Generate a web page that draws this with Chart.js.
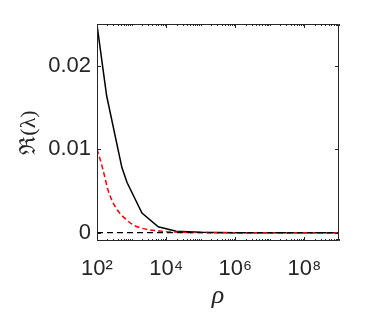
<!DOCTYPE html>
<html>
<head>
<meta charset="utf-8">
<script src="https://cdn.jsdelivr.net/npm/chart.js@4"></script>
<style>
html,body{margin:0;padding:0;background:#fff;}
#wrap{width:374px;height:314px;}
</style>
</head>
<body>
<div id="wrap"><canvas id="c" width="374" height="314"></canvas></div>
<script>
// ---- data ----
const blackRho = [100, 190, 525, 740, 2000, 5900, 19500, 100000, 1000000, 1000000000];
const blackRe  = [0.0249, 0.0164, 0.0078, 0.0060, 0.00235, 0.0007, 0.00018, 0.00004, 0, 0];
const redRho = [100, 131, 163, 202, 283, 442, 690, 1070, 1780, 8300, 30000, 100000, 1000000, 1000000000];
const redRe  = [0.0100, 0.0084, 0.0069, 0.0053, 0.0037, 0.0024, 0.0016, 0.00098, 0.00058, 0.00015, 0.00004, 0.00001, 0, 0];
const zeroRho = [100, 1000000000];
const zeroRe = [0, 0];
const xTickValues = [1e2, 1e4, 1e6, 1e8];
const xTickLabels = ['10²', '10⁴', '10⁶', '10⁸'];
const yTickValues = [0, 0.01, 0.02];
const yTickLabels = ['0', '0.01', '0.02'];
const xTitle = 'ρ';
const yTitle = 'ℜ(λ)';

const pts = (xs, ys) => xs.map((x, i) => ({x: x, y: ys[i]}));
const axisColor = '#262626';

const boxTicks = {
  id: 'boxTicks',
  afterDatasetsDraw(chart) {
    const {ctx, chartArea: a, scales: {x, y}} = chart;
    ctx.save();
    ctx.strokeStyle = axisColor;
    ctx.lineWidth = 1;
    ctx.beginPath();
    ctx.rect(Math.round(a.left) + 0.5, Math.round(a.top) + 0.5,
             Math.round(a.right - a.left) - 1, Math.round(a.bottom - a.top) - 1);
    ctx.stroke();
    ctx.beginPath();
    yTickValues.forEach(v => {
      const py = Math.round(y.getPixelForValue(v)) + 0.5;
      ctx.moveTo(a.left, py); ctx.lineTo(a.left + 4, py);
      ctx.moveTo(a.right, py); ctx.lineTo(a.right - 4, py);
    });
    for (let e = 2; e <= 9; e++) {
      for (let m = 1; m <= 9; m++) {
        const v = m * Math.pow(10, e);
        if (v < 100 || v > 1e9) continue;
        const px = Math.round(x.getPixelForValue(v)) + 0.5;
        const major = (m === 1 && xTickValues.includes(v));
        const len = major ? 4 : 2;
        ctx.moveTo(px, a.bottom); ctx.lineTo(px, a.bottom - len);
        ctx.moveTo(px, a.top); ctx.lineTo(px, a.top + len);
      }
    }
    ctx.stroke();
    ctx.restore();
  }
};

new Chart(document.getElementById('c'), {
  type: 'line',
  data: {
    datasets: [
      {data: pts(zeroRho, zeroRe), borderColor: '#000', borderWidth: 1.2, borderDash: [6, 4], pointRadius: 0, order: 0, tension: 0},
      {data: pts(redRho, redRe), borderColor: '#ff0000', borderWidth: 1.5, borderDash: [5, 3], pointRadius: 0, order: 1, cubicInterpolationMode: 'monotone'},
      {data: pts(blackRho, blackRe), borderColor: '#000', borderWidth: 1.5, pointRadius: 0, order: 2, tension: 0}
    ]
  },
  options: {
    responsive: false,
    animation: false,
    events: [],
    layout: {padding: {left: 0, right: 35, top: 24, bottom: 0}},
    plugins: {legend: {display: false}, tooltip: {enabled: false}},
    scales: {
      x: {
        type: 'logarithmic', min: 100, max: 1e9,
        grid: {display: false, drawTicks: false},
        border: {display: false},
        afterBuildTicks: s => { s.ticks = xTickValues.map(v => ({value: v})); },
        afterFit: s => { s.height = 73; },
        ticks: {
          padding: 15, maxRotation: 0, autoSkip: false, color: axisColor,
          font: {family: "'Liberation Sans', Arial, sans-serif", size: 22},
          callback: (v, i) => xTickLabels[i]
        },
        title: {display: true, text: xTitle, color: axisColor, padding: {top: 0, bottom: 2},
          font: {family: "'Liberation Serif', 'DejaVu Serif', serif", size: 26, style: 'italic'}}
      },
      y: {
        type: 'linear', min: -0.001, max: 0.025,
        grid: {display: false, drawTicks: false},
        border: {display: false},
        afterBuildTicks: s => { s.ticks = yTickValues.map(v => ({value: v})); },
        afterFit: s => { s.width = 97; },
        ticks: {
          padding: 6, color: axisColor,
          font: {family: "'Liberation Sans', Arial, sans-serif", size: 22},
          callback: (v, i) => yTickLabels[i]
        },
        title: {display: true, text: yTitle, color: axisColor, padding: {top: 16, bottom: 0},
          font: {family: "'Liberation Serif', 'DejaVu Serif', serif", size: 22}}
      }
    }
  },
  plugins: [boxTicks]
});
</script>
</body>
</html>
